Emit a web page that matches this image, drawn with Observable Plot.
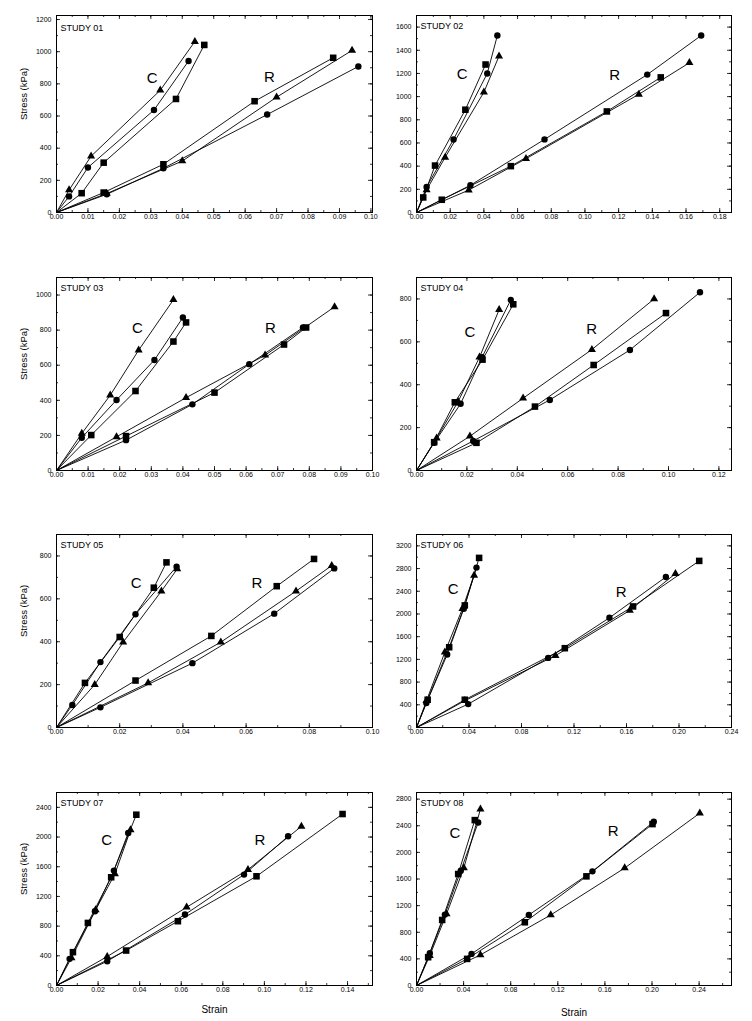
<!DOCTYPE html>
<html><head><meta charset="utf-8">
<script src="https://cdn.jsdelivr.net/npm/d3@7"></script>
<script src="https://cdn.jsdelivr.net/npm/@observablehq/plot@0.6"></script>
<style>
body{margin:0;background:#fff;}
#wrap{position:relative;width:752px;height:1021px;background:#fff;}
.panel{position:absolute;}
</style></head><body><div id="wrap"></div>
<script>
// rows: [group, symbol, strain, stress (kPa)]
const study01 = [
 ["C","triangle",0.004,140],["C","triangle",0.011,350],["C","triangle",0.033,760],["C","triangle",0.044,1063],
 ["C","circle",0.004,100],["C","circle",0.010,280],["C","circle",0.031,637],["C","circle",0.042,942],
 ["C","square",0.008,120],["C","square",0.015,310],["C","square",0.038,706],["C","square",0.047,1042],
 ["R","square",0.015,124],["R","square",0.034,300],["R","square",0.063,692],["R","square",0.088,962],
 ["R","triangle",0.016,118],["R","triangle",0.040,320],["R","triangle",0.070,717],["R","triangle",0.094,1008],
 ["R","circle",0.016,113],["R","circle",0.034,275],["R","circle",0.067,609],["R","circle",0.096,908]
];
const study02 = [
 ["C","circle",0.006,220],["C","circle",0.022,630],["C","circle",0.042,1200],["C","circle",0.048,1527],
 ["C","square",0.004,130],["C","square",0.011,405],["C","square",0.029,887],["C","square",0.041,1277],
 ["C","triangle",0.006,195],["C","triangle",0.017,476],["C","triangle",0.040,1038],["C","triangle",0.049,1350],
 ["R","circle",0.032,235],["R","circle",0.076,631],["R","circle",0.137,1190],["R","circle",0.169,1527],
 ["R","square",0.015,110],["R","square",0.056,400],["R","square",0.113,872],["R","square",0.145,1166],
 ["R","triangle",0.031,193],["R","triangle",0.065,464],["R","triangle",0.132,1020],["R","triangle",0.162,1292]
];
const study03 = [
 ["C","triangle",0.008,211],["C","triangle",0.017,429],["C","triangle",0.026,686],["C","triangle",0.037,973],
 ["C","circle",0.008,187],["C","circle",0.019,402],["C","circle",0.031,630],["C","circle",0.040,872],
 ["C","square",0.011,202],["C","square",0.025,453],["C","square",0.037,735],["C","square",0.041,844],
 ["R","triangle",0.019,192],["R","triangle",0.041,415],["R","triangle",0.066,657],["R","triangle",0.088,933],
 ["R","circle",0.022,173],["R","circle",0.043,377],["R","circle",0.061,606],["R","circle",0.078,815],
 ["R","square",0.022,196],["R","square",0.050,444],["R","square",0.072,718],["R","square",0.079,815]
];
const study04 = [
 ["C","circle",0.007,129],["C","circle",0.0175,311],["C","circle",0.026,528],["C","circle",0.0374,795],
 ["C","square",0.007,132],["C","square",0.0152,318],["C","square",0.0262,517],["C","square",0.0384,775],
 ["C","triangle",0.008,151],["C","triangle",0.0165,321],["C","triangle",0.025,528],["C","triangle",0.0328,750],
 ["R","triangle",0.0212,160],["R","triangle",0.0423,337],["R","triangle",0.0696,564],["R","triangle",0.0943,800],
 ["R","square",0.0238,129],["R","square",0.047,298],["R","square",0.0703,492],["R","square",0.099,734],
 ["R","circle",0.0225,138],["R","circle",0.0529,329],["R","circle",0.0847,562],["R","circle",0.1125,831]
];
const study05 = [
 ["C","circle",0.005,105],["C","circle",0.0139,305],["C","circle",0.025,528],["C","circle",0.038,750],
 ["C","square",0.009,208],["C","square",0.020,422],["C","square",0.0308,652],["C","square",0.0348,770],
 ["C","triangle",0.0121,200],["C","triangle",0.0211,398],["C","triangle",0.0332,636],["C","triangle",0.0382,739],
 ["R","circle",0.0139,94],["R","circle",0.043,300],["R","circle",0.0689,531],["R","circle",0.0879,742],
 ["R","square",0.025,219],["R","square",0.049,427],["R","square",0.0697,659],["R","square",0.0815,786],
 ["R","triangle",0.029,208],["R","triangle",0.052,398],["R","triangle",0.0758,636],["R","triangle",0.0871,755]
];
const study06 = [
 ["C","circle",0.0075,430],["C","circle",0.0234,1285],["C","circle",0.036,2092],["C","circle",0.0457,2817],
 ["C","square",0.0085,489],["C","square",0.0249,1414],["C","square",0.0368,2151],["C","square",0.0477,2988],
 ["C","triangle",0.0076,471],["C","triangle",0.0216,1326],["C","triangle",0.035,2092],["C","triangle",0.0439,2681],
 ["R","square",0.0368,489],["R","square",0.113,1397],["R","square",0.165,2133],["R","square",0.2154,2935],
 ["R","circle",0.0394,412],["R","circle",0.1003,1226],["R","circle",0.147,1933],["R","circle",0.19,2652],
 ["R","triangle",0.0368,471],["R","triangle",0.1059,1267],["R","triangle",0.1625,2062],["R","triangle",0.1973,2711]
];
const study07 = [
 ["C","circle",0.0063,359],["C","circle",0.0185,1000],["C","circle",0.0276,1548],["C","circle",0.0345,2055],
 ["C","triangle",0.0072,372],["C","triangle",0.0188,1018],["C","triangle",0.0281,1503],["C","triangle",0.0356,2095],
 ["C","square",0.0079,449],["C","square",0.0151,843],["C","square",0.0263,1458],["C","square",0.0384,2301],
 ["R","triangle",0.0244,390],["R","triangle",0.0626,1054],["R","triangle",0.0921,1561],["R","triangle",0.1178,2144],
 ["R","circle",0.0244,327],["R","circle",0.0618,956],["R","circle",0.0902,1494],["R","circle",0.1114,2010],
 ["R","square",0.0335,471],["R","square",0.0584,866],["R","square",0.0962,1471],["R","square",0.1376,2310]
];
const study08 = [
 ["C","square",0.0099,425],["C","square",0.0218,985],["C","square",0.0354,1675],["C","square",0.0495,2485],
 ["C","circle",0.0113,485],["C","circle",0.0241,1065],["C","circle",0.0376,1725],["C","circle",0.0524,2450],
 ["C","triangle",0.0113,450],["C","triangle",0.0255,1075],["C","triangle",0.0402,1765],["C","triangle",0.0543,2650],
 ["R","circle",0.0467,475],["R","circle",0.0954,1060],["R","circle",0.1494,1715],["R","circle",0.2015,2460],
 ["R","square",0.043,400],["R","square",0.092,950],["R","square",0.1443,1640],["R","square",0.2004,2425],
 ["R","triangle",0.0543,460],["R","triangle",0.114,1060],["R","triangle",0.1768,1765],["R","triangle",0.2406,2590]
];

const studyNames = ["STUDY 01","STUDY 02","STUDY 03","STUDY 04","STUDY 05","STUDY 06","STUDY 07","STUDY 08"];
const xMax = [0.1005,0.187,0.1,0.125,0.1,0.24,0.152,0.2675];
const yMax = [1225,1700,1100,900,900,3400,2600,2900];
const xMajor = [0.01,0.02,0.01,0.02,0.02,0.04,0.02,0.04];
const xMinor = [0.005,0.01,0.005,0.01,0.01,0.02,0.01,0.02];
const yMajor = [200,200,200,200,200,400,400,400];
const yMinor = [100,100,100,100,100,200,200,200];
// group label anchors [label, strain, stress]
const groupLabels = [
 [["C",0.0304,837],["R",0.0677,841]],
 [["C",0.0271,1195],["R",0.1177,1183]],
 [["C",0.0256,810],["R",0.0677,810]],
 [["C",0.0212,647],["R",0.0695,657]],
 [["C",0.0252,675],["R",0.0634,675]],
 [["C",0.0279,2445],["R",0.156,2375]],
 [["C",0.0241,1952],["R",0.0979,1952]],
 [["C",0.0326,2290],["R",0.167,2315]]
];
const studies = [study01,study02,study03,study04,study05,study06,study07,study08];

// layout
const cols = [{left:0, mL:56, mR:4}, {left:376, mL:40, mR:21}];
const rowsPos = [[15,212],[277,470],[534,727],[792,985]];
const FONT = "'Liberation Sans', Arial, Helvetica, sans-serif";

function tickList(max, step) {
  const n = Math.floor(max / step + 1e-6);
  return d3.range(0, n + 1).map(i => +(i * step).toFixed(6));
}

const wrap = document.getElementById("wrap");
studies.forEach((rows, i) => {
  const c = cols[i % 2];
  const r = Math.floor(i / 2);
  const [top, bottom] = rowsPos[r];
  const mT = 12;
  const mB = r === 3 ? 40 : 30;
  const W = 376;
  const H = mT + (bottom - top) + mB;
  const innerW = W - c.mL - c.mR;
  const innerH = bottom - top;

  // series lines start at the origin
  const keys = Array.from(new Set(rows.map(d => d[0] + "|" + d[1])));
  const lineRows = [];
  keys.forEach(k => {
    const [g, s] = k.split("|");
    lineRows.push([g, s, 0, 0]);
    rows.filter(d => d[0] === g && d[1] === s).sort((a, b) => a[2] - b[2]).forEach(d => lineRows.push(d));
  });

  const xT = tickList(xMax[i], xMajor[i]);
  const xt = tickList(xMax[i], xMinor[i]);
  const yT = tickList(yMax[i], yMajor[i]);
  const yt = tickList(yMax[i], yMinor[i]);

  const marks = [
    Plot.axisX(xT, {tickSize: 0, tickPadding: 2, tickFormat: d3.format(".2f"), label: null}),
    Plot.axisY(yT, {tickSize: 0, tickPadding: 5, tickFormat: d3.format("d"), label: null}),
    Plot.tickX(xt, {x: d => d, insetTop: innerH - 2, stroke: "black", strokeWidth: 0.8}),
    Plot.tickX(xT, {x: d => d, insetTop: innerH - 4, stroke: "black", strokeWidth: 0.8}),
    Plot.tickX(xt, {x: d => d, insetBottom: innerH - 2, stroke: "black", strokeWidth: 0.8}),
    Plot.tickX(xT, {x: d => d, insetBottom: innerH - 4, stroke: "black", strokeWidth: 0.8}),
    Plot.tickY(yt, {y: d => d, insetRight: innerW - 2, stroke: "black", strokeWidth: 0.8}),
    Plot.tickY(yT, {y: d => d, insetRight: innerW - 4, stroke: "black", strokeWidth: 0.8}),
    Plot.tickY(yt, {y: d => d, insetLeft: innerW - 2, stroke: "black", strokeWidth: 0.8}),
    Plot.tickY(yT, {y: d => d, insetLeft: innerW - 4, stroke: "black", strokeWidth: 0.8}),
    Plot.frame({stroke: "black", strokeWidth: 1}),
    Plot.line(lineRows, {x: d => d[2], y: d => d[3], z: d => d[0] + d[1], stroke: "black", strokeWidth: 0.9}),
    Plot.dot(rows.filter(d => d[1] === "circle"), {x: d => d[2], y: d => d[3], symbol: "circle", r: 3.2, fill: "black", stroke: "none"}),
    Plot.dot(rows.filter(d => d[1] === "square"), {x: d => d[2], y: d => d[3], symbol: "square", r: 3.7, fill: "black", stroke: "none"}),
    Plot.dot(rows.filter(d => d[1] === "triangle"), {x: d => d[2], y: d => d[3], symbol: "triangle", r: 3.0, fill: "black", stroke: "none"}),
    Plot.text(groupLabels[i], {x: d => d[1], y: d => d[2], text: d => d[0], fontSize: 15, fill: "black"}),
    Plot.text([studyNames[i]], {text: d => d, frameAnchor: "top-left", dx: 4, dy: i === 0 ? 9 : 7, lineAnchor: "top", textAnchor: "start", fontSize: 9, fill: "black"})
  ];
  if (i % 2 === 0) {
    marks.push(Plot.text(["Stress (kPa)"], {text: d => d, frameAnchor: "left", dx: -33, dy: 6, rotate: -90, fontSize: 9.5, fill: "black"}));
  }
  if (r === 3) {
    marks.push(Plot.text(["Strain"], {text: d => d, frameAnchor: "bottom", dy: i === 6 ? 27 : 30, lineAnchor: "bottom", fontSize: 10, fill: "black"}));
  }

  const svg = Plot.plot({
    width: W, height: H,
    marginLeft: c.mL, marginRight: c.mR, marginTop: mT, marginBottom: mB,
    style: {fontFamily: FONT, fontSize: "7px", overflow: "visible", background: "transparent", color: "black"},
    x: {domain: [0, xMax[i]]},
    y: {domain: [0, yMax[i]]},
    marks
  });
  const div = document.createElement("div");
  div.className = "panel";
  div.style.left = c.left + "px";
  div.style.top = (top - mT) + "px";
  div.appendChild(svg);
  wrap.appendChild(div);
});
</script>
</body></html>
